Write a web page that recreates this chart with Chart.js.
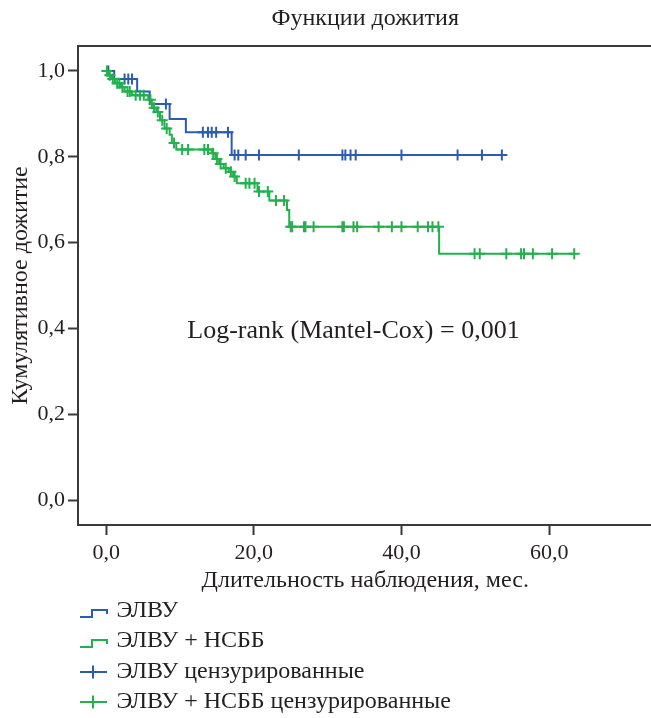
<!DOCTYPE html>
<html>
<head>
<meta charset="utf-8">
<script src="https://cdn.jsdelivr.net/npm/chart.js@4.4.1/dist/chart.umd.min.js"></script>
<style>
  html, body { margin: 0; padding: 0; background: #fff; overflow: hidden; }
  #wrap { width: 660px; height: 718px; }
</style>
</head>
<body>
<div id="wrap"><canvas id="c" width="660" height="718"></canvas></div>
<script>
// ---- Data ----
const chartTitle = "Функции дожития";
const xAxisTitle = "Длительность наблюдения, мес.";
const yAxisTitle = "Кумулятивное дожитие";
const annotationText = "Log-rank (Mantel-Cox) = 0,001";
const seriesNames = ["ЭЛВУ", "ЭЛВУ + НСББ", "ЭЛВУ цензурированные", "ЭЛВУ + НСББ цензурированные"];

const xTickValues = [0, 20, 40, 60];
const yTickValues = [0, 0.2, 0.4, 0.6, 0.8, 1.0];

// ЭЛВУ survival curve (time of step, survival after step)
const blueTimes = [0, 1.1, 4.2, 5.9, 8.6, 10.8, 17.0, 53.6];
const blueSurv  = [1.0, 0.981, 0.952, 0.923, 0.888, 0.857, 0.804, 0.804];
// ЭЛВУ censored observations
const blueCensTimes = [0.3, 2.5, 3.0, 3.5, 8.1, 13.1, 13.8, 14.3, 14.9, 16.5, 17.4, 17.9, 18.9, 20.7, 26.1, 32.0, 32.4, 33.1, 33.8, 40.0, 47.6, 50.9, 53.6];
const blueCensSurv  = [1.0, 0.981, 0.981, 0.981, 0.923, 0.857, 0.857, 0.857, 0.857, 0.857, 0.804, 0.804, 0.804, 0.804, 0.804, 0.804, 0.804, 0.804, 0.804, 0.804, 0.804, 0.804, 0.804];

// ЭЛВУ + НСББ survival curve
const greenTimes = [0, 0.3, 0.7, 1.2, 2.0, 2.5, 3.5, 5.7, 6.2, 6.8, 7.3, 7.9, 8.6, 8.9, 9.5, 14.3, 14.8, 15.3, 15.9, 16.6, 17.2, 17.7, 20.5, 22.1, 24.5, 24.8, 45.1, 63.4];
const greenSurv  = [1.0, 0.990, 0.981, 0.971, 0.962, 0.952, 0.943, 0.933, 0.914, 0.904, 0.885, 0.866, 0.851, 0.832, 0.817, 0.808, 0.795, 0.783, 0.773, 0.765, 0.754, 0.738, 0.719, 0.698, 0.676, 0.637, 0.574, 0.574];
// ЭЛВУ + НСББ censored observations
const greenCensTimes = [0.1, 0.5, 0.9, 1.5, 1.8, 2.2, 2.9, 3.2, 4.0, 4.6, 5.1, 6.0, 6.5, 7.0, 7.6, 8.2, 9.2,
  10.3, 11.1, 13.3, 13.8, 14.5, 15.0, 15.5, 16.2, 16.9, 17.4, 18.9, 19.4, 20.1, 20.7, 21.9, 23.0, 24.1,
  25.0, 25.2, 26.8, 27.0, 28.1, 32.0, 32.2, 33.5, 34.0, 36.9, 38.7, 40.0, 42.2, 43.6, 44.2, 45.0,
  49.9, 50.6, 54.2, 56.2, 56.6, 57.8, 60.4, 63.4];
const greenCensSurv = [1.0, 0.990, 0.981, 0.971, 0.971, 0.962, 0.952, 0.952, 0.943, 0.943, 0.943, 0.933, 0.914, 0.904, 0.885, 0.866, 0.832,
  0.817, 0.817, 0.817, 0.817, 0.808, 0.795, 0.783, 0.773, 0.765, 0.754, 0.738, 0.738, 0.738, 0.719, 0.719, 0.698, 0.698,
  0.637, 0.637, 0.637, 0.637, 0.637, 0.637, 0.637, 0.637, 0.637, 0.637, 0.637, 0.637, 0.637, 0.637, 0.637, 0.637,
  0.574, 0.574, 0.574, 0.574, 0.574, 0.574, 0.574, 0.574];

// ---- Styling ----
const BLUE = '#2b5cb0';
const GREEN = '#22b14c';
const TEXT = '#231f20';
const AXIS = '#3a3a3a';
const FONT = 'Liberation Serif';

const pts = (xs, ys) => xs.map((x, i) => ({ x: x, y: ys[i] }));

const frameAndExtras = {
  id: 'frameAndExtras',
  afterDraw(chart) {
    const { ctx, chartArea: a, scales } = chart;
    ctx.save();
    // plot frame (top + right)
    ctx.strokeStyle = AXIS;
    ctx.lineWidth = 2;
    ctx.beginPath();
    ctx.moveTo(a.left, a.top);
    ctx.lineTo(a.right, a.top);
    ctx.lineTo(a.right, a.bottom);
    ctx.stroke();
    // annotation
    ctx.fillStyle = TEXT;
    ctx.font = '26px "' + FONT + '"';
    ctx.textAlign = 'center';
    ctx.textBaseline = 'middle';
    ctx.fillText(annotationText, scales.x.getPixelForValue(33.5), scales.y.getPixelForValue(0.394));
    // legend
    const rows = [611, 641, 672, 702];
    const colors = [BLUE, GREEN, BLUE, GREEN];
    ctx.font = '24px "' + FONT + '"';
    ctx.textAlign = 'left';
    ctx.lineWidth = 2;
    rows.forEach((y, i) => {
      ctx.strokeStyle = colors[i];
      ctx.beginPath();
      if (i < 2) {
        ctx.moveTo(80, y + 6);
        ctx.lineTo(92, y + 6);
        ctx.lineTo(92, y - 1);
        ctx.lineTo(107, y - 1);
        ctx.lineTo(107, y + 3);
      } else {
        ctx.moveTo(80, y);
        ctx.lineTo(107, y);
        ctx.moveTo(93, y - 6.5);
        ctx.lineTo(93, y + 6.5);
      }
      ctx.stroke();
      ctx.fillStyle = TEXT;
      ctx.fillText(seriesNames[i], 116.5, y);
    });
    ctx.restore();
  }
};

new Chart(document.getElementById('c'), {
  type: 'line',
  data: {
    datasets: [
      { label: seriesNames[0], data: pts(blueTimes, blueSurv), stepped: true, borderColor: BLUE, borderWidth: 2,
        pointRadius: 0, fill: false, order: 2 },
      { label: seriesNames[1], data: pts(greenTimes, greenSurv), stepped: true, borderColor: GREEN, borderWidth: 2,
        pointRadius: 0, fill: false, order: 1 },
      { label: seriesNames[2], data: pts(blueCensTimes, blueCensSurv), showLine: false, pointStyle: 'cross',
        pointRadius: 5.5, pointBorderWidth: 2, borderColor: BLUE, backgroundColor: BLUE, order: 2 },
      { label: seriesNames[3], data: pts(greenCensTimes, greenCensSurv), showLine: false, pointStyle: 'cross',
        pointRadius: 5.5, pointBorderWidth: 2, borderColor: GREEN, backgroundColor: GREEN, order: 0 }
    ]
  },
  options: {
    responsive: false,
    animation: false,
    events: [],
    layout: { padding: { left: 0, right: 4, top: 0, bottom: 123 } },
    plugins: {
      legend: { display: false },
      tooltip: { enabled: false },
      title: {
        display: true, text: chartTitle, color: TEXT, fullSize: false,
        font: { family: FONT, size: 24, weight: 'normal' },
        padding: { top: 4.5, bottom: 12.7 }
      }
    },
    scales: {
      x: {
        type: 'linear', min: -3.81, max: 74.0,
        afterBuildTicks: s => { s.ticks = xTickValues.map(v => ({ value: v })); },
        afterFit: s => { s.height = 70; },
        ticks: {
          color: TEXT, font: { family: FONT, size: 22 }, padding: 5, maxRotation: 0,
          callback: v => v.toFixed(1).replace('.', ',')
        },
        grid: { display: true, drawOnChartArea: false, drawTicks: true, tickLength: 10, tickColor: AXIS, tickWidth: 2 },
        border: { display: true, color: AXIS, width: 2 },
        title: { display: true, text: xAxisTitle, color: TEXT, font: { family: FONT, size: 24 }, padding: { top: 0, bottom: 0 } }
      },
      y: {
        type: 'linear', min: -0.058, max: 1.058,
        afterBuildTicks: s => { s.ticks = yTickValues.map(v => ({ value: v })); },
        afterFit: s => { s.width = 78; },
        ticks: {
          color: TEXT, font: { family: FONT, size: 22 }, padding: 3,
          callback: v => v.toFixed(1).replace('.', ',')
        },
        grid: { display: true, drawOnChartArea: false, drawTicks: true, tickLength: 10, tickColor: AXIS, tickWidth: 2 },
        border: { display: true, color: AXIS, width: 2 },
        title: { display: true, text: yAxisTitle, color: TEXT, font: { family: FONT, size: 24 }, padding: { top: 6, bottom: 0 } }
      }
    }
  },
  plugins: [frameAndExtras]
});
</script>
</body>
</html>
